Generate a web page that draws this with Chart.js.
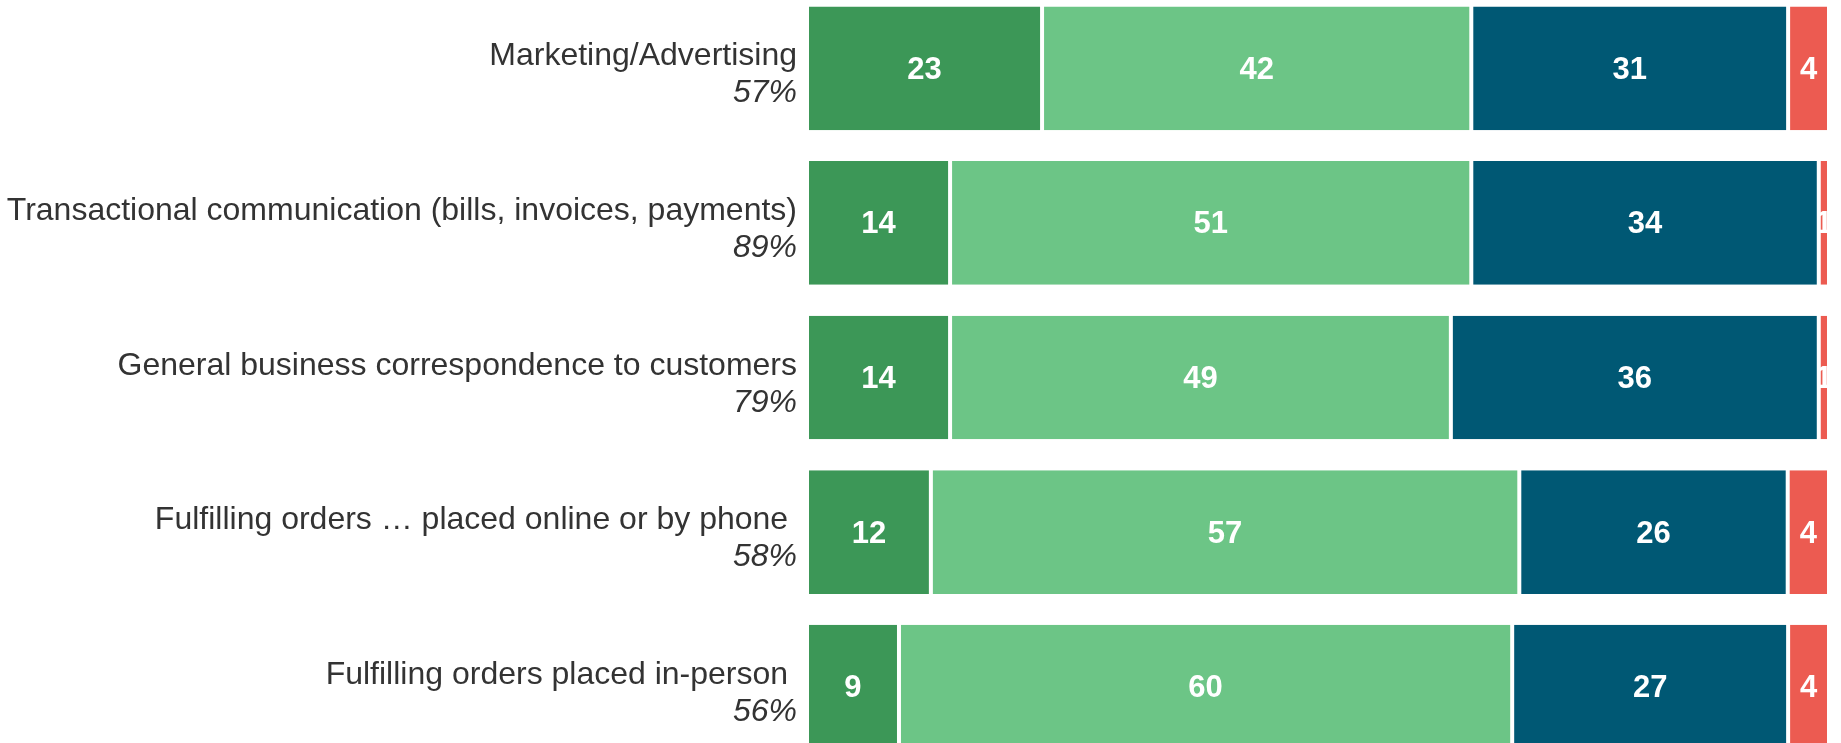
<!DOCTYPE html>
<html>
<head>
<meta charset="utf-8">
<script src="https://cdn.jsdelivr.net/npm/chart.js@4/dist/chart.umd.min.js"></script>
<style>
  html, body { margin: 0; padding: 0; background: #ffffff; overflow: hidden; }
  body { width: 1841px; height: 743px; position: relative; }
  #wrap { position: absolute; left: 0; top: -9px; width: 1841px; height: 773px; }
</style>
</head>
<body>
<div id="wrap"><canvas id="c"></canvas></div>
<script>
// Activity categories and the share of respondents (shown under each name)
const categories = [
  "Marketing/Advertising",
  "Transactional communication (bills, invoices, payments)",
  "General business correspondence to customers",
  "Fulfilling orders \u2026 placed online or by phone ",
  "Fulfilling orders placed in-person "
];
const shareLabels = ["57%", "89%", "79%", "58%", "56%"];

// Stacked segments (percent of each row)
const seriesA = [23, 14, 14, 12, 9];
const seriesB = [42, 51, 49, 57, 60];
const seriesC = [31, 34, 36, 26, 27];
const seriesD = [4, 1, 1, 4, 4];

const colors = ["#3c9757", "#6cc586", "#005874", "#ec5b51"];

const FONT = "'Liberation Sans', Arial, sans-serif";
const LABEL_RIGHT = 797;

// Each row is drawn as a 100% stack: segment length = value / row total
const allSeries = [seriesA, seriesB, seriesC, seriesD];
const rowTotals = categories.map((_, i) => allSeries.reduce((s, arr) => s + arr[i], 0));
const toShare = arr => arr.map((v, i) => v / rowTotals[i] * 100);

// Two-line row labels: name on top, share in italics underneath
const rowLabels = {
  id: "rowLabels",
  afterDraw(chart) {
    const ctx = chart.ctx;
    const y = chart.scales.y;
    ctx.save();
    ctx.fillStyle = "#333333";
    ctx.textAlign = "right";
    ctx.textBaseline = "alphabetic";
    categories.forEach((name, i) => {
      const cy = y.getPixelForValue(i);
      ctx.font = "32px " + FONT;
      ctx.fillText(name, LABEL_RIGHT, cy - 3);
      ctx.font = "italic 32px " + FONT;
      ctx.fillText(shareLabels[i], LABEL_RIGHT, cy + 34);
    });
    ctx.restore();
  }
};

// Value labels centred in every segment
const segmentLabels = {
  id: "segmentLabels",
  afterDatasetsDraw(chart) {
    const ctx = chart.ctx;
    ctx.save();
    ctx.fillStyle = "#ffffff";
    ctx.font = "bold 31px " + FONT;
    ctx.textAlign = "center";
    ctx.textBaseline = "middle";
    chart.data.datasets.forEach((ds, di) => {
      const meta = chart.getDatasetMeta(di);
      meta.data.forEach((bar, i) => {
        const cx = (bar.x + bar.base) / 2;
        ctx.fillText(String(ds.raw[i]), cx, bar.y + 2);
      });
    });
    ctx.restore();
  }
};

const mkSet = (values, color) => ({
  data: toShare(values),
  raw: values,
  backgroundColor: color,
  borderColor: "#ffffff",
  borderWidth: { left: 2, right: 2, top: 0, bottom: 0 },
  borderSkipped: false,
  barPercentage: 0.8,
  categoryPercentage: 1.0
});

new Chart(document.getElementById("c"), {
  type: "bar",
  data: {
    labels: categories,
    datasets: allSeries.map((s, k) => mkSet(s, colors[k]))
  },
  options: {
    indexAxis: "y",
    responsive: true,
    maintainAspectRatio: false,
    animation: false,
    layout: { padding: { left: 807, right: 12, top: 0, bottom: 0 } },
    plugins: { legend: { display: false }, tooltip: { enabled: false } },
    scales: {
      x: { stacked: true, min: 0, max: 100, display: false },
      y: { stacked: true, display: false, offset: true }
    }
  },
  plugins: [rowLabels, segmentLabels]
});
</script>
</body>
</html>
